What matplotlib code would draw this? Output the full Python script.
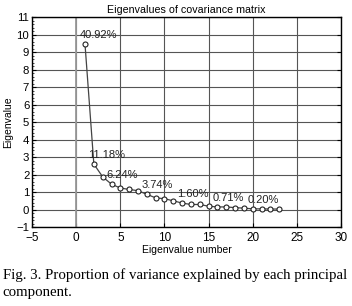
import matplotlib
matplotlib.use("Agg")
import matplotlib.pyplot as plt
from matplotlib.ticker import MultipleLocator

eig_number = list(range(1, 24))
eigenvalues = [9.45, 2.60, 1.87, 1.45, 1.23, 1.15, 1.08, 0.87, 0.67, 0.62, 0.50,
               0.37, 0.29, 0.29, 0.19, 0.15, 0.15, 0.11, 0.08, 0.04, 0.04, 0.03, 0.03]
label_idx = [1, 2, 4, 8, 12, 16, 20]
label_text = ["40.92%", "11.18%", "6.24%", "3.74%", "1.60%", "0.71%", "0.20%"]

plt.rcParams['font.family'] = ['Liberation Sans', 'DejaVu Sans']

fig = plt.figure(figsize=(3.52, 3.06), dpi=100)
ax = fig.add_axes([0.091, 0.258, 0.878, 0.686])

ax.set_xlim(-5, 30)
ax.set_ylim(-1, 11)
ax.xaxis.set_major_locator(MultipleLocator(5))
ax.yaxis.set_major_locator(MultipleLocator(1))
ax.yaxis.set_minor_locator(MultipleLocator(0.2))
ax.grid(True, which='major', color='#555555', linewidth=0.8)
ax.set_axisbelow(True)
ax.axvline(0, color='#999999', linewidth=1.3, zorder=1.5)

ax.plot(eig_number, eigenvalues, color='#444444', linewidth=0.9, marker='o',
        markersize=3.6, markerfacecolor='white', markeredgecolor='#222222',
        markeredgewidth=0.8, zorder=3)

for i, t in zip(label_idx, label_text):
    ax.text(eig_number[i - 1] - 0.6, eigenvalues[i - 1] + 0.22, t,
            fontsize=8, ha='left', va='bottom', color='#222222', zorder=4)

ax.tick_params(axis='x', which='major', direction='in', length=3, labelsize=8.5,
               width=0.8, pad=3.5)
ax.tick_params(axis='y', which='major', direction='in', length=3, labelsize=8.2,
               width=0.8, pad=2, right=True)
ax.tick_params(axis='y', which='minor', direction='in', length=1.5, width=0.5)
for s in ax.spines.values():
    s.set_linewidth(1.0)
    s.set_color('black')

ax.set_title("Eigenvalues of covariance matrix", fontsize=7.7, pad=3)
ax.set_xlabel("Eigenvalue number", fontsize=7.5, labelpad=1)
ax.set_ylabel("Eigenvalue", fontsize=7.5, labelpad=2)

fig.text(0.008, 0.073, "Fig. 3. Proportion of variance explained by each principal\ncomponent.",
         family='Liberation Serif', fontsize=10.7, ha='left', va='center', linespacing=1.35)

fig.savefig("out.png", dpi=100)
